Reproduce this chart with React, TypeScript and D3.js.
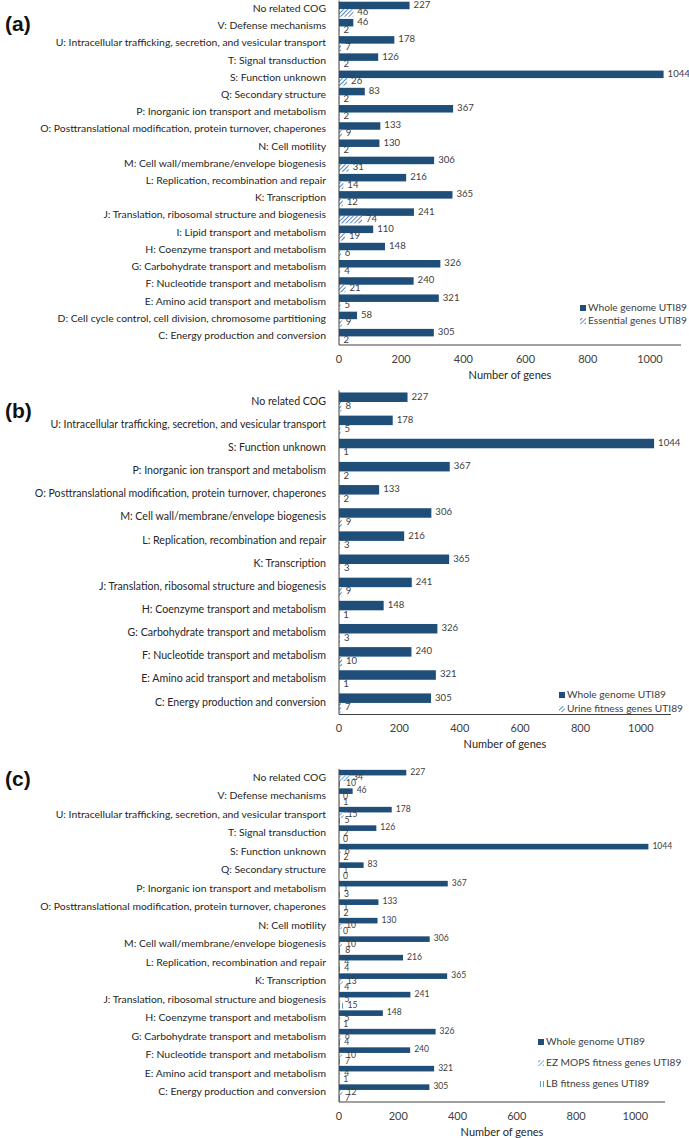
import React from 'react';
import * as d3 from 'd3';

// panel (a) - whole genome vs essential genes
const catsA = [
  'No related COG',
  'V: Defense mechanisms',
  'U: Intracellular trafficking, secretion, and vesicular transport',
  'T: Signal transduction',
  'S: Function unknown',
  'Q: Secondary structure',
  'P: Inorganic ion transport and metabolism',
  'O: Posttranslational modification, protein turnover, chaperones',
  'N: Cell motility',
  'M: Cell wall/membrane/envelope biogenesis',
  'L: Replication, recombination and repair',
  'K: Transcription',
  'J: Translation, ribosomal structure and biogenesis',
  'I: Lipid transport and metabolism',
  'H: Coenzyme transport and metabolism',
  'G: Carbohydrate transport and metabolism',
  'F: Nucleotide transport and metabolism',
  'E: Amino acid transport and metabolism',
  'D: Cell cycle control, cell division, chromosome partitioning',
  'C: Energy production and conversion',
];
const wholeA = [227, 46, 178, 126, 1044, 83, 367, 133, 130, 306, 216, 365, 241, 110, 148, 326, 240, 321, 58, 305];
const essentialA = [46, 2, 7, 2, 26, 2, 2, 9, 2, 31, 14, 12, 74, 19, 6, 4, 21, 5, 9, 2];

// panel (b) - whole genome vs urine fitness genes
const catsB = [
  'No related COG',
  'U: Intracellular trafficking, secretion, and vesicular transport',
  'S: Function unknown',
  'P: Inorganic ion transport and metabolism',
  'O: Posttranslational modification, protein turnover, chaperones',
  'M: Cell wall/membrane/envelope biogenesis',
  'L: Replication, recombination and repair',
  'K: Transcription',
  'J: Translation, ribosomal structure and biogenesis',
  'H: Coenzyme transport and metabolism',
  'G: Carbohydrate transport and metabolism',
  'F: Nucleotide transport and metabolism',
  'E: Amino acid transport and metabolism',
  'C: Energy production and conversion',
];
const wholeB = [227, 178, 1044, 367, 133, 306, 216, 365, 241, 148, 326, 240, 321, 305];
const urineB = [8, 5, 1, 2, 2, 9, 3, 3, 9, 1, 3, 10, 1, 7];

// panel (c) - whole genome vs EZ MOPS / LB fitness genes
const catsC = [
  'No related COG',
  'V: Defense mechanisms',
  'U: Intracellular trafficking, secretion, and vesicular transport',
  'T: Signal transduction',
  'S: Function unknown',
  'Q: Secondary structure',
  'P: Inorganic ion transport and metabolism',
  'O: Posttranslational modification, protein turnover, chaperones',
  'N: Cell motility',
  'M: Cell wall/membrane/envelope biogenesis',
  'L: Replication, recombination and repair',
  'K: Transcription',
  'J: Translation, ribosomal structure and biogenesis',
  'H: Coenzyme transport and metabolism',
  'G: Carbohydrate transport and metabolism',
  'F: Nucleotide transport and metabolism',
  'E: Amino acid transport and metabolism',
  'C: Energy production and conversion',
];
const wholeC = [227, 46, 178, 126, 1044, 83, 367, 133, 130, 306, 216, 365, 241, 148, 326, 240, 321, 305];
const ezC = [34, 0, 15, 2, 6, 1, 1, 1, 10, 10, 4, 13, 5, 5, 6, 10, 4, 12];
const lbC = [10, 1, 5, 0, 2, 0, 3, 2, 0, 8, 4, 4, 15, 1, 4, 7, 1, 7];

const xTicks = [0, 200, 400, 600, 800, 1000];
const xMax = 1100;

const NAVY = '#1f4e79';
const FONT = "Lato, 'Open Sans', sans-serif";

type Series = { name: string; values: number[]; fill: string };

function Panel({ tag, tagY, cats, series, top, bottom, xr, pad, catFont, valFont, legendX, legendY }: any) {
  const y = d3.scaleBand().domain(cats).range([top, bottom]).padding(0);
  const inner = d3.scaleBand().domain(series.map((s: Series) => s.name)).range([0, y.bandwidth()]).paddingInner(0).paddingOuter(pad);
  const x = d3.scaleLinear().domain([0, xMax]).range(xr);

  return (
    <g>
      <text x={5} y={tagY} dominantBaseline="middle" fontFamily="'Liberation Sans', Arial, sans-serif" fontWeight="bold" fontSize={21} fill="#111">{tag}</text>
      {cats.map((c: string) => (
        <text key={c} x={x(0) - 13} y={y(c)! + y.bandwidth() / 2} textAnchor="end" dominantBaseline="middle" fontFamily={FONT} fontSize={catFont} fill="#262626">{c}</text>
      ))}
      {series.map((s: Series) => (
        <g key={s.name}>
          {s.values.map((v, i) => {
            const by = y(cats[i])! + inner(s.name)!;
            return (
              <g key={i}>
                <rect x={x(0)} y={by} width={Math.max(x(v) - x(0), 0)} height={inner.bandwidth()} fill={s.fill} />
                <text x={x(v) + 4} y={by + inner.bandwidth() / 2} dominantBaseline="middle" fontFamily={FONT} fontSize={valFont} fill="#404040">{v}</text>
              </g>
            );
          })}
        </g>
      ))}
      <line x1={x(0)} x2={x(0)} y1={top} y2={bottom} stroke="#404040" strokeWidth={1} />
      <line x1={x(0)} x2={x(xMax)} y1={bottom} y2={bottom} stroke="#404040" strokeWidth={1} />
      {xTicks.map(t => (
        <text key={t} x={x(t)} y={bottom + 15} textAnchor="middle" dominantBaseline="middle" fontFamily={FONT} fontSize={11} fill="#404040">{t}</text>
      ))}
      <text x={(xr[0] + xr[1]) / 2} y={bottom + 31} textAnchor="middle" dominantBaseline="middle" fontFamily={FONT} fontSize={11} fill="#262626">Number of genes</text>
      {series.map((s: Series, i: number) => (
        <g key={s.name}>
          <rect x={legendX} y={legendY[i] - 3} width={6} height={6} fill={s.fill} />
          <text x={legendX + 8} y={legendY[i]} dominantBaseline="middle" fontFamily={FONT} fontSize={10.2} fill="#404040">{s.name}</text>
        </g>
      ))}
    </g>
  );
}

export default function App() {
  const seriesA: Series[] = [
    { name: 'Whole genome UTI89', values: wholeA, fill: NAVY },
    { name: 'Essential genes UTI89', values: essentialA, fill: 'url(#diag)' },
  ];
  const seriesB: Series[] = [
    { name: 'Whole genome UTI89', values: wholeB, fill: NAVY },
    { name: 'Urine fitness genes UTI89', values: urineB, fill: 'url(#diag)' },
  ];
  const seriesC: Series[] = [
    { name: 'Whole genome UTI89', values: wholeC, fill: NAVY },
    { name: 'EZ MOPS fitness genes UTI89', values: ezC, fill: 'url(#diagLight)' },
    { name: 'LB fitness genes UTI89', values: lbC, fill: 'url(#vert)' },
  ];

  return (
    <svg width={689} height={1138} style={{ position: 'absolute', left: 0, top: 0, background: '#fff' }}>
      <defs>
        <pattern id="diag" width={3} height={3} patternUnits="userSpaceOnUse" patternTransform="rotate(45)">
          <rect width={3} height={3} fill="#fff" />
          <line x1={0} y1={0} x2={0} y2={3} stroke="#2e6aa8" strokeWidth={1.6} />
        </pattern>
        <pattern id="diagLight" width={3} height={3} patternUnits="userSpaceOnUse" patternTransform="rotate(45)">
          <rect width={3} height={3} fill="#fff" />
          <line x1={0} y1={0} x2={0} y2={3} stroke="#4a86c5" strokeWidth={1.4} />
        </pattern>
        <pattern id="vert" width={3} height={3} patternUnits="userSpaceOnUse">
          <rect width={3} height={3} fill="#fff" />
          <line x1={0.5} y1={0} x2={0.5} y2={3} stroke="#5b9bd5" strokeWidth={1} />
        </pattern>
      </defs>
      <Panel tag="(a)" tagY={25} cats={catsA} series={seriesA} top={0.6} bottom={345} xr={[339, 681]} pad={0.147}
        catFont={10.4} valFont={9.6} legendX={580} legendY={[308, 321]} />
      <Panel tag="(b)" tagY={412} cats={catsB} series={seriesB} top={390.4} bottom={714.5} xr={[339, 671]} pad={0.218}
        catFont={10.6} valFont={9.6} legendX={559} legendY={[695, 709]} />
      <Panel tag="(c)" tagY={780} cats={catsC} series={seriesC} top={769} bottom={1102} xr={[339, 665]} pad={0.15}
        catFont={10.4} valFont={8.6} legendX={538} legendY={[1042, 1063, 1084]} />
    </svg>
  );
}
